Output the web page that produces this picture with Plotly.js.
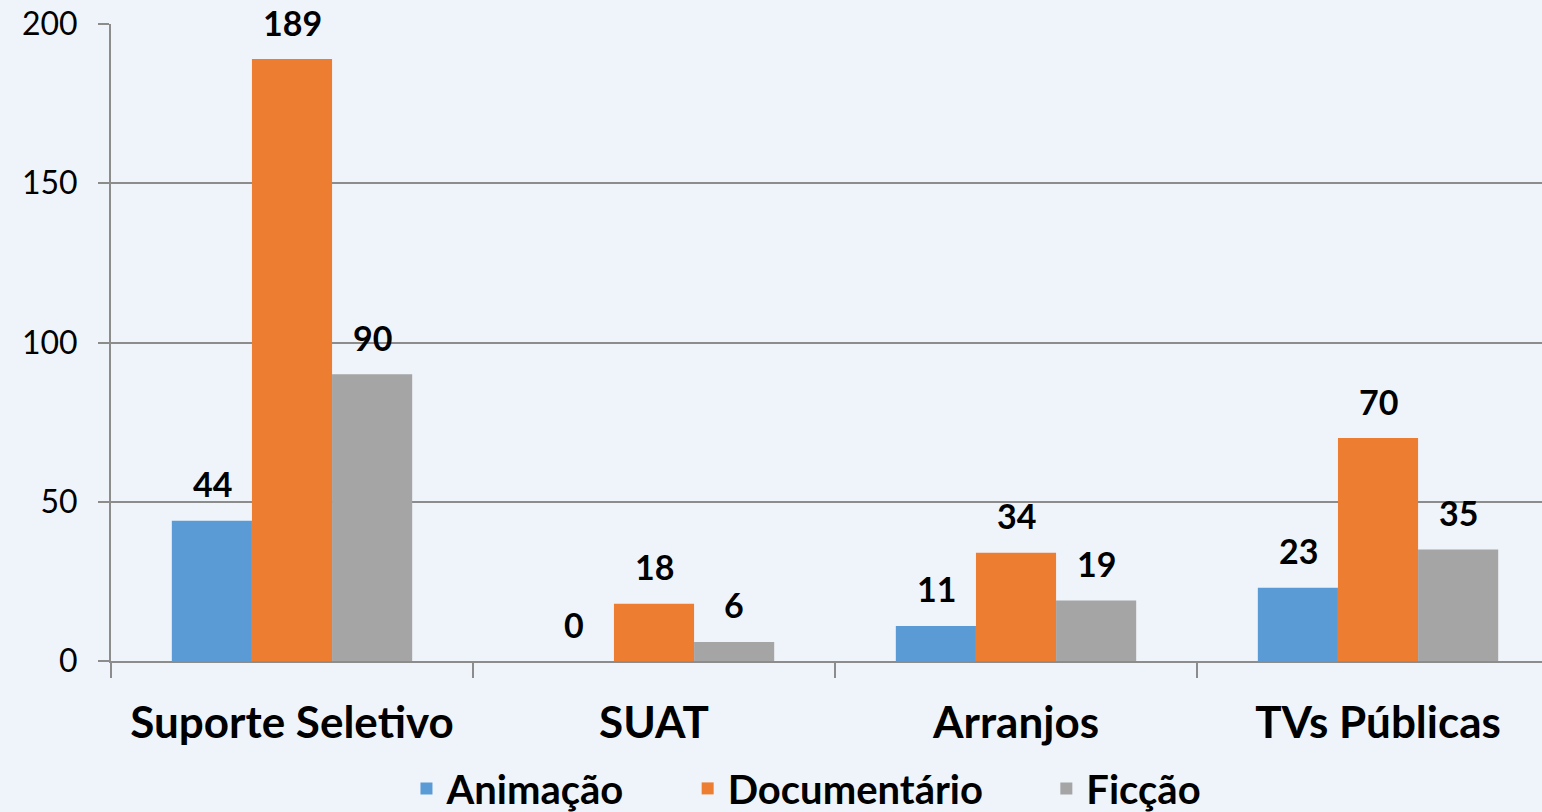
<!DOCTYPE html>
<html>
<head>
<meta charset="utf-8">
<script src="https://cdn.plot.ly/plotly-3.0.1.min.js"></script>
<style>
  html, body { margin: 0; padding: 0; background: #EFF4FB; }
  #chart { width: 1542px; height: 812px; }
</style>
</head>
<body>
<div id="chart"></div>
<script>
var categories = ["Suporte Seletivo", "SUAT", "Arranjos", "TVs Públicas"];
var animacao = [44, 0, 11, 23];
var documentario = [189, 18, 34, 70];
var ficcao = [90, 6, 19, 35];

var seriesNames = ["Animação", "Documentário", "Ficção"];
var seriesValues = [animacao, documentario, ficcao];
var seriesColors = ["#5B9BD5", "#ED7D31", "#A5A5A5"];
var labelShift = [-80, 0, 80];

// extra room between legend entries
var legendPad = "\u00a0\u00a0\u00a0\u00a0\u00a0\u00a0";

var data = seriesValues.map(function(vals, i) {
    return {
        x: categories,
        y: vals,
        name: seriesNames[i] + (i < seriesNames.length - 1 ? legendPad : ""),
        type: "bar",
        marker: {color: seriesColors[i]},
        hoverinfo: "none"
    };
});

// value labels sit a little higher than plotly's outside text, so use annotations
var annotations = [];
seriesValues.forEach(function(vals, i) {
    vals.forEach(function(v, j) {
        annotations.push({
            x: categories[j],
            y: v,
            xref: "x",
            yref: "y",
            text: "<b>" + v + "</b>",
            showarrow: false,
            xshift: labelShift[i],
            yshift: 37,
            font: {family: "Lato", size: 34, color: "#000"}
        });
    });
});

var layout = {
    width: 1542,
    height: 812,
    paper_bgcolor: "#EFF4FB",
    plot_bgcolor: "#EFF4FB",
    margin: {l: 111, r: 0, t: 24, b: 151, autoexpand: false},
    barmode: "group",
    bargap: 0.336,
    bargroupgap: 0,
    showlegend: true,
    legend: {
        orientation: "h",
        x: 0.486,
        xanchor: "center",
        y: -0.2,
        yanchor: "middle",
        font: {family: "Lato", size: 40, color: "#000", weight: "bold"},
        itemwidth: 30,
        traceorder: "normal"
    },
    xaxis: {
        range: [-0.5, 3.453],
        type: "category",
        automargin: false,
        tickson: "boundaries",
        ticks: "outside",
        ticklen: 15,
        tickwidth: 2,
        tickcolor: "#8C8C8C",
        showline: true,
        linecolor: "#8C8C8C",
        linewidth: 2,
        showgrid: false,
        tickfont: {family: "Lato", size: 44, color: "#000", weight: "bold"},
        ticklabelstandoff: 22
    },
    yaxis: {
        range: [0, 200],
        automargin: false,
        tickvals: [0, 50, 100, 150, 200],
        ticks: "outside",
        ticklen: 11,
        tickwidth: 2,
        tickcolor: "#8C8C8C",
        showline: true,
        linecolor: "#8C8C8C",
        linewidth: 2,
        showgrid: true,
        gridcolor: "#8C8C8C",
        gridwidth: 2,
        zeroline: false,
        tickfont: {family: "Lato", size: 32, color: "#000"},
        ticklabelstandoff: 14
    },
    annotations: annotations
};

Plotly.newPlot("chart", data, layout, {displayModeBar: false, staticPlot: true});
</script>
</body>
</html>
